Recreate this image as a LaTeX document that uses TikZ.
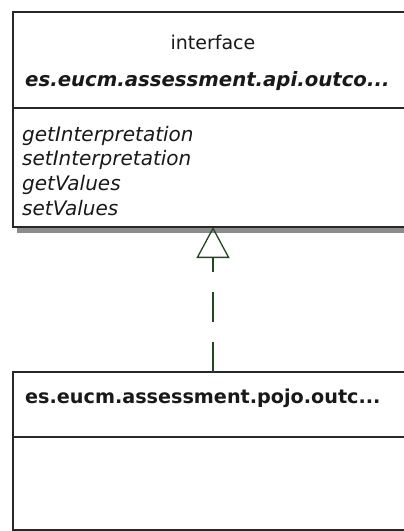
\documentclass[tikz,border=0pt]{standalone}
\usepackage{fontspec}
\setmainfont{DejaVu Sans}
\usetikzlibrary{positioning,arrows.meta,shadows}
\definecolor{umlline}{RGB}{40,40,40}
\definecolor{umllink}{RGB}{35,70,35}
\tikzstyle{compart}=[rectangle,draw=umlline,line width=1.3pt,fill=white,minimum width=400pt,inner sep=0pt,outer sep=0pt]
\tikzstyle{umltext}=[inner sep=0pt,text=black!90,font=\fontsize{20}{24}\selectfont]
\tikzstyle{realize}=[draw=umllink,line width=1.3pt,dash pattern=on 30pt off 20pt]
\begin{document}
\begin{tikzpicture}[x=1pt,y=-1pt]
\useasboundingbox (0,0) rectangle (404,531);
\clip (0,0) rectangle (404,531);
\node[compart,minimum height=96pt,anchor=north west] (ifacehead) at (13,12) {};
\node[compart,minimum height=119pt,below=0pt of ifacehead,general shadow={fill=black!45,shadow xshift=4pt,shadow yshift=-6pt}] (ifaceops) {};
\node[compart,minimum height=65pt,anchor=north west] (implhead) at (13,372) {};
\node[compart,minimum height=93pt,below=0pt of implhead] (implbody) {};
\node[umltext,anchor=base,font=\fontsize{19}{23}\selectfont] (stereo) at (213,49) {interface};
\node[umltext,anchor=base west,font=\fontsize{19.7}{24}\selectfont] (ifacename) at (25,86) {\textbf{\textit{es.eucm.assessment.api.outco...}}};
\node[umltext,anchor=base west] (op1) at (22,141) {\textit{getInterpretation}};
\node[umltext,anchor=base west] (op2) at (22,165) {\textit{setInterpretation}};
\node[umltext,anchor=base west] (op3) at (22,190) {\textit{getValues}};
\node[umltext,anchor=base west] (op4) at (22,215) {\textit{setValues}};
\node[umltext,anchor=base west,font=\fontsize{19.2}{24}\selectfont] (implname) at (25,403) {\textbf{es.eucm.assessment.pojo.outc...}};
\draw[realize,-{Triangle[open,length=31pt,width=33pt,line width=1.3pt]}] (implhead.north) -- (ifaceops.south);
\end{tikzpicture}
\end{document}
